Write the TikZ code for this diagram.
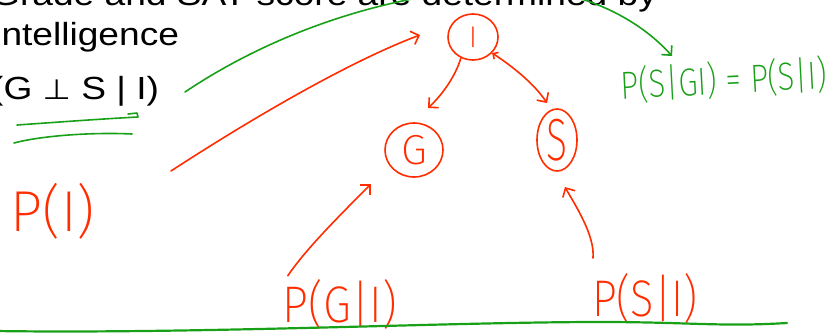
\documentclass[tikz,border=0pt]{standalone}
\usepackage{fontspec}
\setmainfont{Liberation Sans}
\newfontfamily\dejavu{DejaVu Sans}
\newfontfamily\hand{Fira Sans ExtraLight}
\usetikzlibrary{shapes.geometric,arrows.meta}
\definecolor{pen}{RGB}{255,45,0}
\definecolor{ink}{RGB}{25,160,25}
\begin{document}
\begin{tikzpicture}[x=1pt,y=-1pt,
  redline/.style={draw=pen,line width=1.6pt,line cap=round,line join=round},
  greenline/.style={draw=ink,line width=1.6pt,line cap=round,line join=round},
  barb/.style={-{Straight Barb[length=7pt,width=14pt]}},
  dbarb/.style={{Straight Barb[length=4pt,width=8pt]}-{Straight Barb[length=7pt,width=14pt]}},
  circ/.style={ellipse,draw=pen,line width=1.6pt,inner sep=0pt,text=pen,font=\hand},
  printed/.style={anchor=base west,inner sep=0pt,text=black,font=\fontsize{32}{38}\selectfont},
  handlbl/.style={inner sep=0pt,text=pen,font=\hand}
]
\useasboundingbox (0,0) rectangle (831,333);
\clip (0,0) rectangle (831,333);

% printed slide text
\node[printed] (t1) at (-9,5) {\scalebox{1.16}[1]{Grade and SAT score are determined by}};
\node[printed] (t2) at (-9,45) {\scalebox{1.16}[1]{Intelligence}};
\node[printed] (t3) at (-9,99) {\scalebox{1.16}[1]{(G {\dejavu\fontsize{28}{30}\selectfont ⊥} S | I)}};

% network nodes
\node[circ,minimum width=50pt,minimum height=46pt,font=\hand\fontsize{30}{32}\selectfont] (I) at (473,37) {I};
\node[circ,minimum width=58pt,minimum height=54pt,font=\hand\fontsize{42}{44}\selectfont] (G) at (414,150) {G};
\node[circ,minimum width=40pt,minimum height=62pt] (S) at (557,140) {\resizebox*{21pt}{42pt}{S}};

% handwritten labels
\node[handlbl] (PI) at (53,211) {\resizebox*{84pt}{56pt}{P(I)}};
\node[handlbl] (PGI) at (340,304) {\resizebox*{114pt}{50pt}{P(G|I)}};
\node[handlbl] (PSI) at (645,298) {\resizebox*{106pt}{50pt}{P(S|I)}};
\node[handlbl,text=ink,rotate=3] (eq) at (724,80) {\resizebox*{206pt}{38pt}{P(S|GI) = P(S|I)}};

% free ends
\coordinate (gtip) at (428,108);
\coordinate (stip) at (547,103);
\coordinate (pistart) at (171,171);
\coordinate (itip) at (420,35);
\coordinate (garcstart) at (185,92);
\coordinate (eqtip) at (672,56);
\coordinate (gitip) at (371,184);
\coordinate (psistart) at (593,258);
\coordinate (sitip) at (565,187);

% red connectors
\draw[redline,barb] (I.240) .. controls (455,78) and (440,97) .. (gtip);
\draw[redline,dbarb] (I.-40) .. controls (515,68) and (535,85) .. (stip);
\draw[redline,barb] (pistart) .. controls (240,126) and (345,63) .. (itip);
\draw[redline,barb] ([xshift=5pt,yshift=3pt]PGI.north west) .. controls (305,250) and (340,215) .. (gitip);
\draw[redline,barb] (psistart) .. controls (595,235) and (575,205) .. (sitip);

% green marks
\draw[greenline,barb] (garcstart) .. controls (270,35) and (380,-5) .. (497,-12)
  .. controls (580,-15) and (640,20) .. (eqtip);
\draw[greenline] (17,125) .. controls (60,122) and (100,119) .. (138,117) -- (137,113) -- (128,114);
\draw[greenline] (14,143) .. controls (40,136) and (90,132) .. (132,134);
\draw[greenline,line width=2.2pt] (-5,331) .. controls (200,334) and (450,322) .. (600,322)
  .. controls (690,322) and (720,327) .. (787,323);
\end{tikzpicture}
\end{document}
